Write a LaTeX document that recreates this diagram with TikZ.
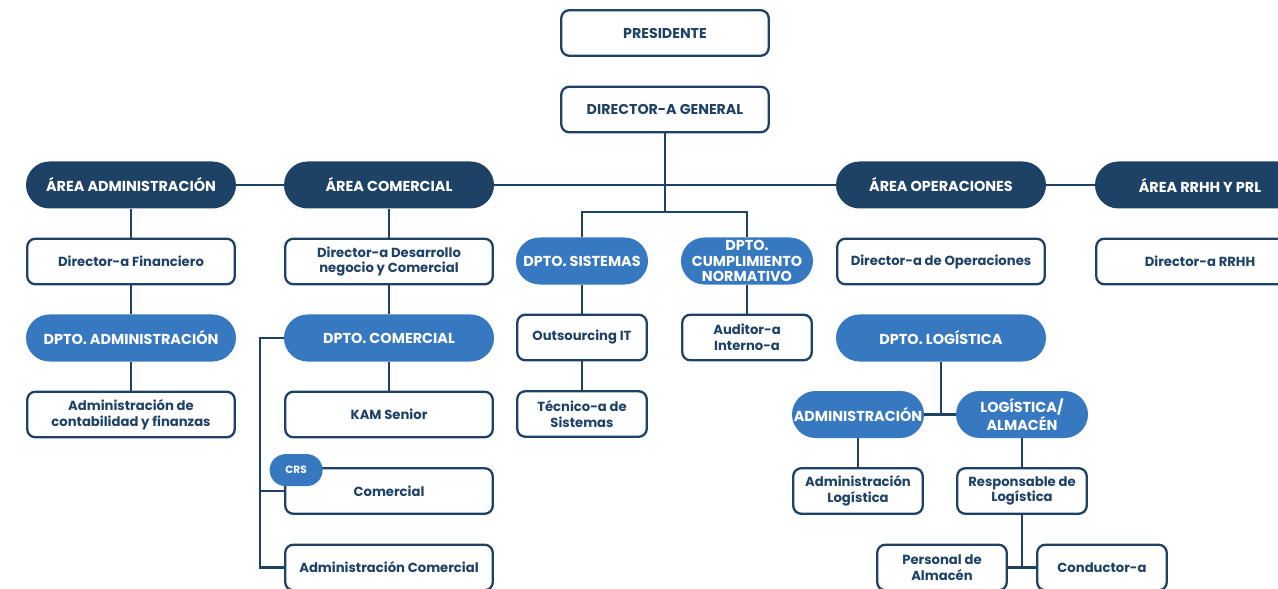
\documentclass[tikz,border=0pt]{standalone}
\usepackage{fontspec}
\setmainfont{Poppins}
\usepackage{tikz}
\tikzset{node distance=1.53cm, auto}
\definecolor{navy}{HTML}{1E4266}
\definecolor{midblue}{HTML}{3679C1}
\tikzset{
  box/.style={draw=navy, line width=1.3pt, rounded corners=0.16cm, fill=white,
    text=navy, minimum width=4.15cm, minimum height=0.91cm, align=center,
    inner sep=1pt, font=\bfseries\fontsize{7.5}{9}\selectfont},
  capbox/.style={box, font=\bfseries\fontsize{8.1}{9}\selectfont},
  sbox/.style={box, minimum width=2.59cm},
  pill/.style={fill=navy, text=white, rounded corners=0.47cm, minimum width=4.2cm,
    minimum height=0.94cm, align=center, inner xsep=0.5pt, inner ysep=0pt,
    font=\bfseries\fontsize{8.2}{8.6}\selectfont},
  bpill/.style={pill, fill=midblue},
  sbpill/.style={bpill, minimum width=2.64cm},
  crspill/.style={bpill, rounded corners=0.32cm, minimum width=1.06cm,
    minimum height=0.64cm, font=\bfseries\fontsize{6}{7}\selectfont},
  link/.style={draw=navy, line width=1.3pt},
}

\begin{document}
\begin{tikzpicture}
                \useasboundingbox (0,0) rectangle (25.56,-11.78);
                \node (pres) [capbox] at (13.3,-0.66) {PRESIDENTE};
                \node (dg) [capbox, below of=pres] {DIRECTOR-A GENERAL};
                \node (areaadm) [pill] at (2.62,-3.7) {ÁREA ADMINISTRACIÓN};
                \node (areacom) [pill, node distance=5.16cm, right of=areaadm] {ÁREA COMERCIAL};
                \node (areaop) [pill] at (18.82,-3.7) {ÁREA OPERACIONES};
                \node (arearrhh) [pill, node distance=5.18cm, right of=areaop] {ÁREA RRHH Y PRL};
                \node (dirfin) [box, below of=areaadm] {Director-a Financiero};
                \node (dptoadm) [bpill, below of=dirfin] {DPTO. ADMINISTRACIÓN};
                \node (admcont) [box, below of=dptoadm] {Administración de\\contabilidad y finanzas};
                \node (dirdes) [box, below of=areacom] {Director-a Desarrollo\\negocio y Comercial};
                \node (dptocom) [bpill, below of=dirdes] {DPTO. COMERCIAL};
                \node (kam) [box, below of=dptocom] {KAM Senior};
                \node (comercial) [box, below of=kam] {Comercial};
                \node (admcom) [box, below of=comercial] {Administración Comercial};
                \node (crs) [crspill, xshift=0.24cm, yshift=-0.06cm] at (comercial.north west) {CRS};
                \node (sistemas) [sbpill] at (11.64,-5.22) {DPTO. SISTEMAS};
                \node (cumpl) [sbpill, node distance=3.3cm, right of=sistemas] {DPTO.\\CUMPLIMIENTO\\NORMATIVO};
                \node (outs) [sbox, below of=sistemas] {Outsourcing IT};
                \node (tecnico) [sbox, below of=outs] {Técnico-a de\\Sistemas};
                \node (auditor) [sbox, below of=cumpl] {Auditor-a\\Interno-a};
                \node (dirop) [box, below of=areaop] {Director-a de Operaciones};
                \node (dptolog) [bpill, below of=dirop] {DPTO. LOGÍSTICA};
                \node (admpill) [sbpill, below of=dptolog, xshift=-1.66cm] {ADMINISTRACIÓN};
                \node (logalm) [sbpill, below of=dptolog, xshift=1.62cm] {LOGÍSTICA/\\ALMACÉN};
                \node (admlog) [sbox, below of=admpill] {Administración\\Logística};
                \node (resplog) [sbox, below of=logalm] {Responsable de\\Logística};
                \node (personal) [sbox, below of=resplog, xshift=-1.6cm] {Personal de\\Almacén};
                \node (conductor) [sbox, below of=resplog, xshift=1.6cm] {Conductor-a};
                \node (dirrrhh) [box, below of=arearrhh] {Director-a RRHH};
                \coordinate (br) at (13.3,-4.24);
                \coordinate (bk) at ([xshift=-0.48cm]dptocom.west);
                \draw [link] (areaadm) -- (areacom) -- (areaop) -- (arearrhh);
                \draw [link] (dg) -- (br);
                \draw [link] (sistemas) |- (br) -| (cumpl);
                \draw [link] (areaadm) -- (dirfin) -- (dptoadm) -- (admcont);
                \draw [link] (areacom) -- (dirdes) -- (dptocom) -- (kam);
                \draw [link] (dptocom) -- (bk) |- (admcom);
                \draw [link] (comercial) -- (comercial -| bk);
                \draw [link] (sistemas) -- (outs) -- (tecnico);
                \draw [link] (cumpl) -- (auditor);
                \draw [link] (dptolog) -- (dptolog |- admpill);
                \draw [link] (admpill) -- (logalm);
                \draw [link] (admpill) -- (admlog);
                \draw [link] (logalm) -- (resplog) -- (resplog |- personal);
                \draw [link] (personal) -- (conductor);
              \end{tikzpicture}
\end{document}
